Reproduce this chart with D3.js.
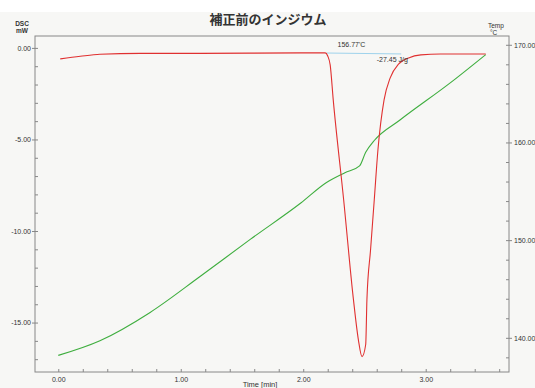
<!DOCTYPE html>
<html><head><meta charset="utf-8">
<script src="https://cdn.jsdelivr.net/npm/d3@7/dist/d3.min.js"></script>
<style>
html,body{margin:0;padding:0;background:#f7f7f5;}
svg{display:block;}
text{font-family:"Liberation Sans",Arial,sans-serif;fill:#333;}
</style></head><body>
<script>
// ---- data ----
const dscTime = [0.016,0.18,0.34,0.67,1.16,1.98,2.18,2.20,2.22,2.245,2.33,2.41,2.45,2.48,2.51,2.52,2.55,2.58,2.61,2.66,2.71,2.78,2.86,2.96,3.12,3.49];
const dscValue = [-0.60,-0.46,-0.35,-0.30,-0.30,-0.27,-0.27,-0.44,-0.93,-2.84,-8.29,-13.75,-15.93,-16.86,-16.2,-13.75,-11.0,-8.29,-5.56,-2.84,-1.64,-0.87,-0.55,-0.38,-0.33,-0.33];
const tempTime = [0.0,0.34,0.75,1.16,1.57,1.98,2.19,2.34,2.46,2.51,2.58,2.79,3.20,3.49];
const tempValue = [138.2,139.7,142.6,146.3,150.1,153.8,155.9,156.9,157.6,159.0,160.2,162.3,166.1,169.0];
const dscTicks = [0, -5, -10, -15];
const tempTicks = [140, 150, 160, 170];
const timeTicks = [0, 1, 2, 3];
const title = "補正前のインジウム";
const onsetLabel = "156.77'C";
const areaLabel = "-27.45 J/g";

const W = 535, H = 388;
const svg = d3.select("body").append("svg").attr("width", W).attr("height", H);
svg.append("rect").attr("x",0).attr("y",0).attr("width",W).attr("height",12).attr("fill","#ffffff");

const x = d3.scaleLinear().domain([-0.19, 3.68]).range([35, 509]);
const yL = d3.scaleLinear().domain([0.65, -17.7]).range([36, 372]);
const yR = d3.scaleLinear().domain([170.9, 136.5]).range([36, 372]);

const axisColor = "#888";
// frame
svg.append("rect").attr("x", x.range()[0]).attr("y", yL.range()[0])
  .attr("width", x.range()[1]-x.range()[0]).attr("height", yL.range()[1]-yL.range()[0])
  .attr("fill","none").attr("stroke",axisColor).attr("stroke-width",1);

function styleAxis(g){
  g.select(".domain").remove();
  g.selectAll("line").attr("stroke", axisColor);
  g.selectAll("text").attr("font-size", 7).attr("fill","#333");
}
// left axis
svg.append("g").attr("transform",`translate(${x.range()[0]},0)`)
  .call(d3.axisLeft(yL).tickValues(dscTicks).tickSize(3).tickPadding(1).tickFormat(d=>d.toFixed(2)))
  .call(styleAxis);
svg.append("g").attr("transform",`translate(${x.range()[0]},0)`)
  .call(d3.axisLeft(yL).tickValues(d3.range(0,-18,-1)).tickSize(-3).tickFormat(""))
  .call(styleAxis);
// right axis
svg.append("g").attr("transform",`translate(${x.range()[1]},0)`)
  .call(d3.axisRight(yR).tickValues(tempTicks).tickSize(3).tickPadding(2).tickFormat(d=>d.toFixed(2)))
  .call(styleAxis);
svg.append("g").attr("transform",`translate(${x.range()[1]},0)`)
  .call(d3.axisRight(yR).tickValues(d3.range(138,171,2)).tickSize(-3).tickFormat(""))
  .call(styleAxis);
// bottom axis
svg.append("g").attr("transform",`translate(0,${yL.range()[1]})`)
  .call(d3.axisBottom(x).tickValues(timeTicks).tickSize(0).tickPadding(5).tickFormat(d=>d.toFixed(2)))
  .call(styleAxis);
svg.append("g").attr("transform",`translate(0,${yL.range()[1]})`)
  .call(d3.axisBottom(x).tickValues(d3.range(0,3.61,0.2)).tickSize(-3).tickFormat(""))
  .call(styleAxis);

// titles
svg.append("text").attr("x", 268).attr("y", 24).attr("text-anchor","middle")
  .attr("font-size", 13).attr("font-weight","bold")
  .style("font-family","'Noto Sans CJK JP',sans-serif").text(title);
svg.append("text").attr("x", 22).attr("y", 26).attr("text-anchor","middle").attr("font-size",6.5).attr("font-weight","bold").text("DSC");
svg.append("text").attr("x", 22).attr("y", 33).attr("text-anchor","middle").attr("font-size",6.5).attr("font-weight","bold").text("mW");
svg.append("text").attr("x", 488).attr("y", 28).attr("font-size",6.5).text("Temp");
svg.append("text").attr("x", 490).attr("y", 35).attr("font-size",6.5).text("°C");
svg.append("text").attr("x", 260).attr("y", 387).attr("text-anchor","middle").attr("font-size",7.5).text("Time  [min]");

// baseline (light blue)
svg.append("line").attr("x1", x(2.19)).attr("x2", x(2.80))
  .attr("y1", yL(-0.28)).attr("y2", yL(-0.33))
  .attr("stroke","#9fd3ec").attr("stroke-width",1);

// curves
const dsc = dscTime.map((t,i)=>[t, dscValue[i]]);
const temp = tempTime.map((t,i)=>[t, tempValue[i]]);
svg.append("path").datum(temp)
  .attr("d", d3.line().x(d=>x(d[0])).y(d=>yR(d[1])).curve(d3.curveMonotoneX))
  .attr("fill","none").attr("stroke","#3fae3f").attr("stroke-width",1.1);
svg.append("path").datum(dsc)
  .attr("d", d3.line().x(d=>x(d[0])).y(d=>yL(d[1])).curve(d3.curveMonotoneX))
  .attr("fill","none").attr("stroke","#e03030").attr("stroke-width",1.1);

// annotations
svg.append("text").attr("x", x(2.28)).attr("y", 47).attr("font-size",7).text(onsetLabel);
svg.append("text").attr("x", x(2.60)).attr("y", 62).attr("font-size",7).text(areaLabel);
</script>
</body></html>
